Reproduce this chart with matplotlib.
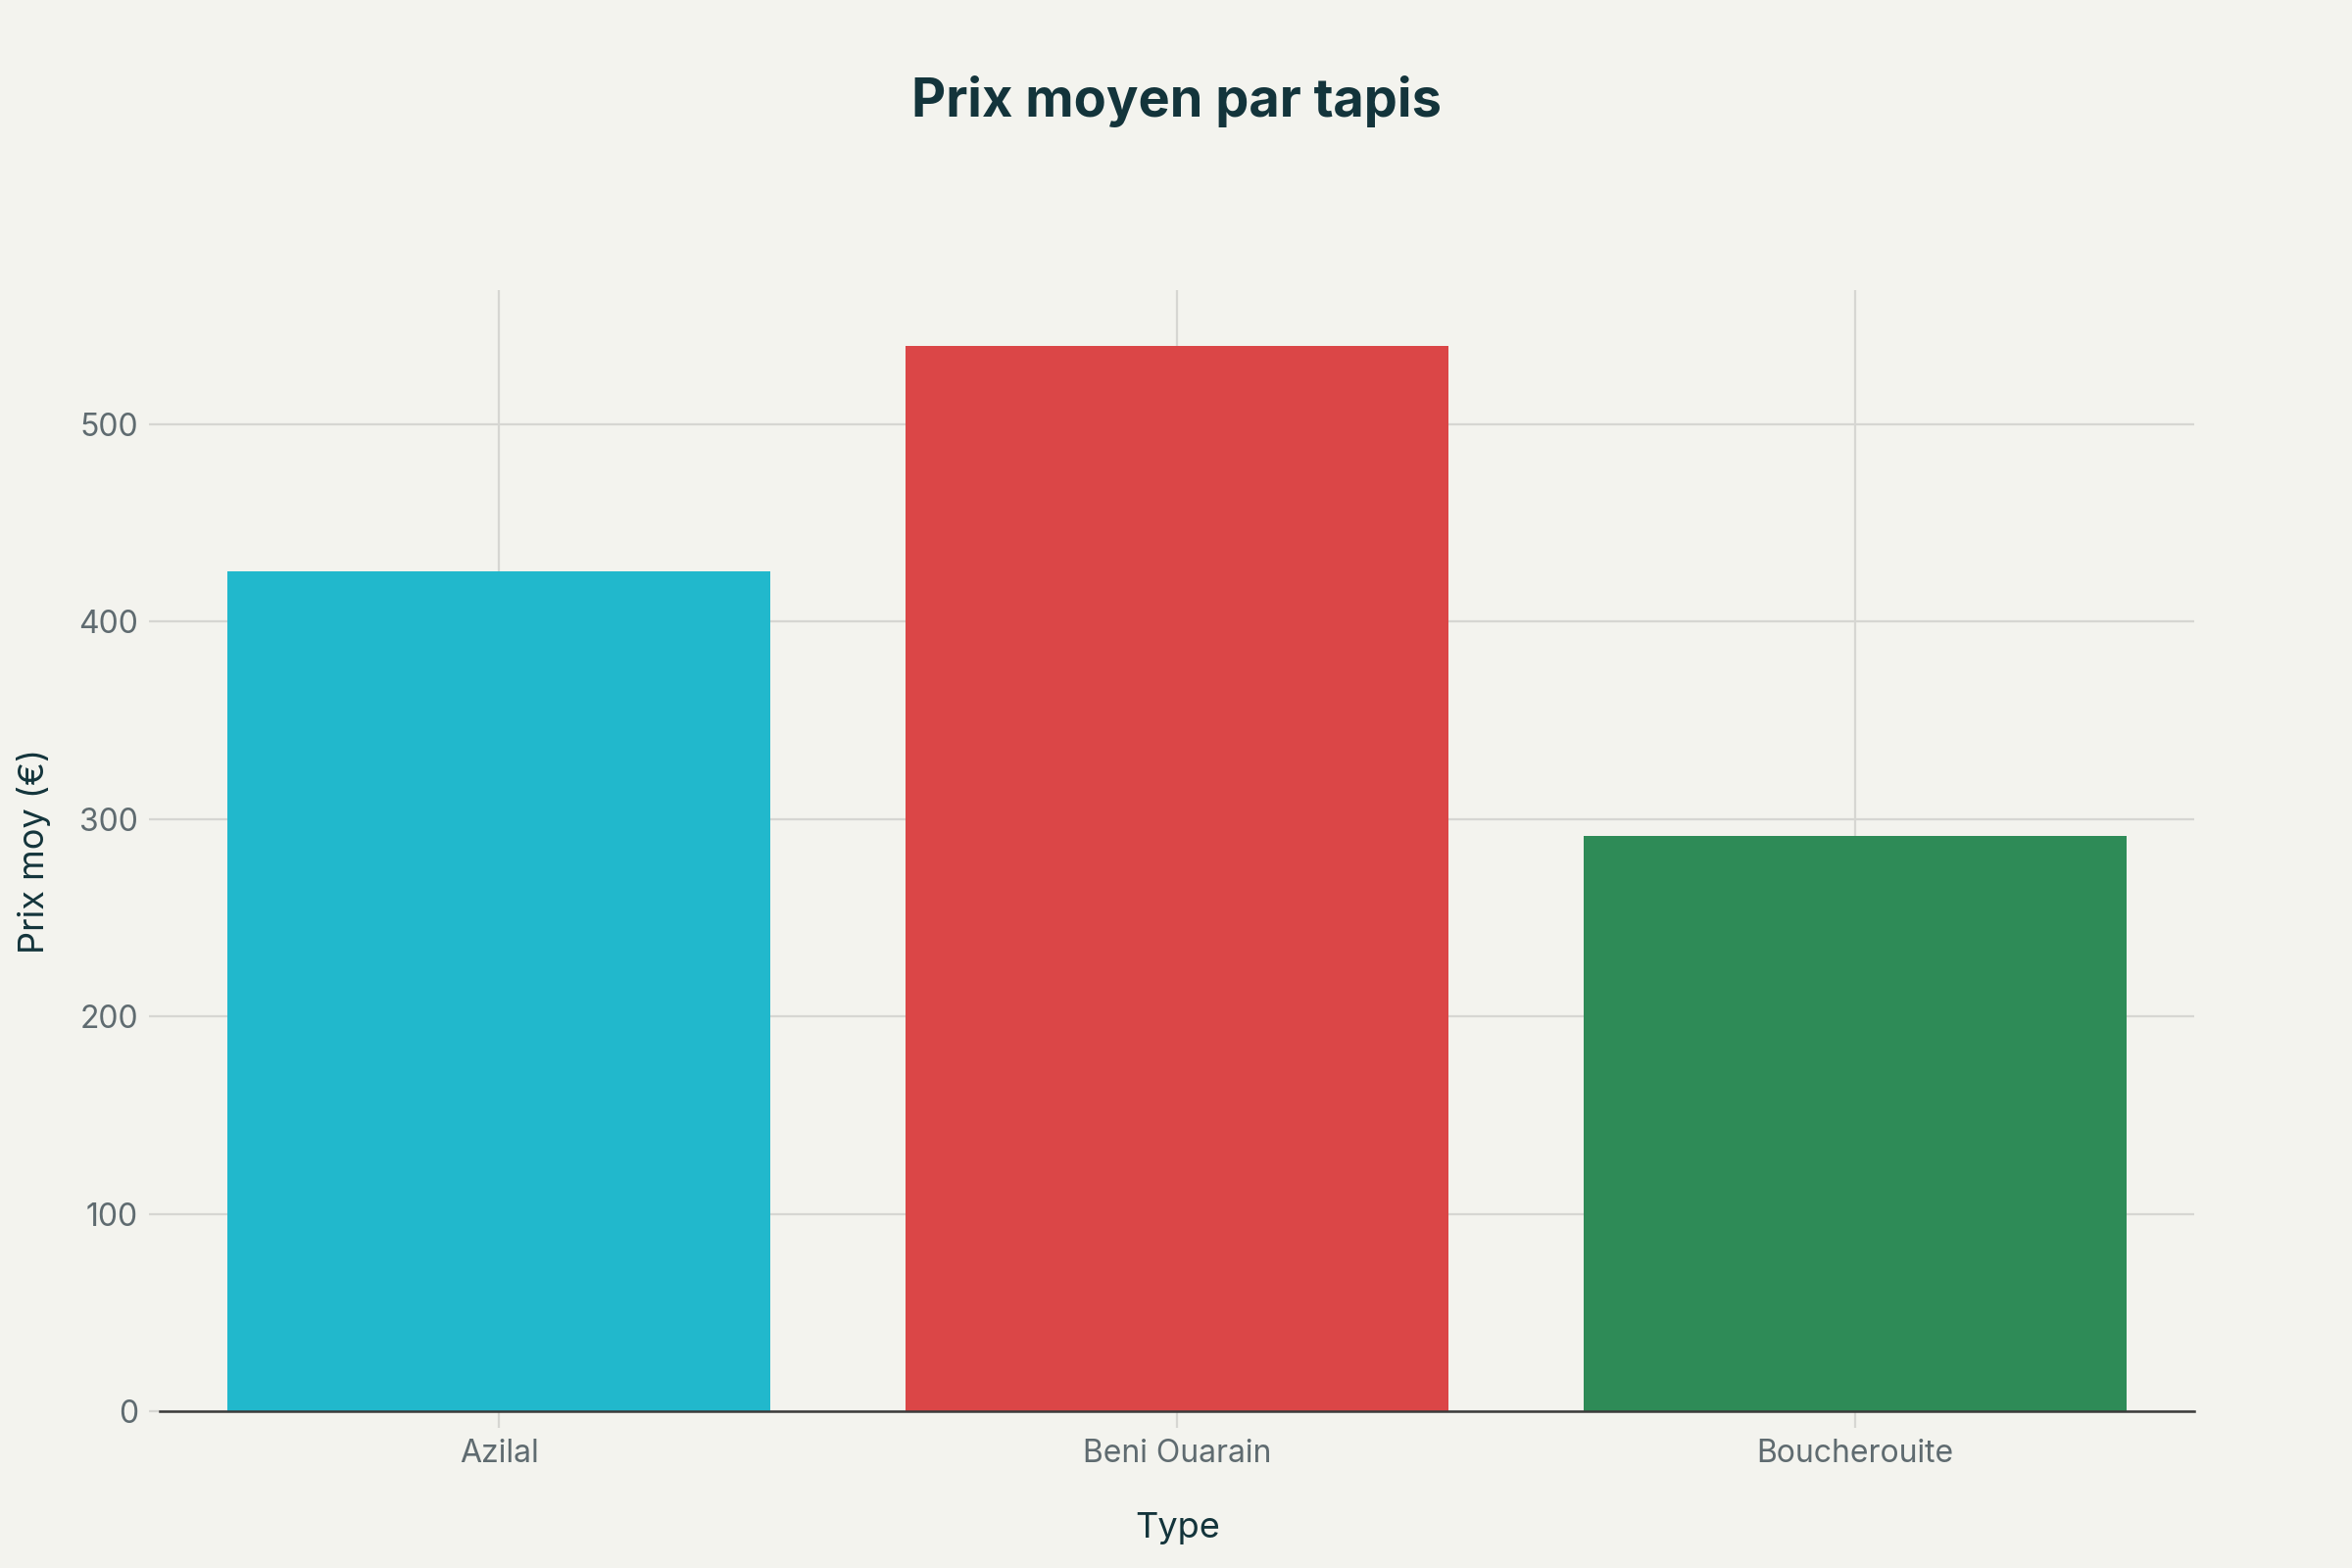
import matplotlib.pyplot as plt

# mean price per rug type
types = ["Azilal", "Beni Ouarain", "Boucherouite"]
prix_moyen = [425.5, 539.5, 291.5]
bar_colors = ["#21B8CC", "#DB4647", "#2E8B57"]
yticks = [0, 100, 200, 300, 400, 500]

bg = "#F3F3EE"
dark = "#13343B"
grey = "#5F6B70"
grid_col = "#D6D6D2"

plt.rcParams['font.family'] = ['Inter', 'DejaVu Sans']

fig = plt.figure(figsize=(12, 8), dpi=200, facecolor=bg)
ax = fig.add_axes([0.068, 0.1, 0.865, 0.715], facecolor=bg)

x = range(len(types))
ax.bar(x, prix_moyen, width=0.8, color=bar_colors, zorder=3)

ax.set_xlim(-0.5, len(types) - 0.5)
ax.set_ylim(0, 568)
ax.set_xticks(list(x))
ax.set_xticklabels(types)
ax.set_yticks(yticks)

ax.grid(True, color=grid_col, linewidth=0.8, zorder=0)
for s in ["top", "right", "left"]:
    ax.spines[s].set_visible(False)
ax.spines["bottom"].set_color("#3A3A3A")
ax.spines["bottom"].set_linewidth(0.9)
ax.spines["bottom"].set_zorder(4)

ax.tick_params(axis="x", colors=grid_col, length=6, width=0.8, pad=4, labelsize=11.5, labelcolor=grey)
ax.tick_params(axis="y", colors=grid_col, length=4, width=0.8, pad=4, labelsize=11.5, labelcolor=grey)

ax.set_xlabel("Type", fontsize=13, color=dark, labelpad=16)
ax.set_ylabel("Prix moy (€)", fontsize=13, color=dark, labelpad=10)

fig.suptitle("Prix moyen par tapis", fontsize=19.5, fontweight="bold", color=dark, y=0.952)

fig.savefig("out.png", dpi=200, facecolor=bg)
